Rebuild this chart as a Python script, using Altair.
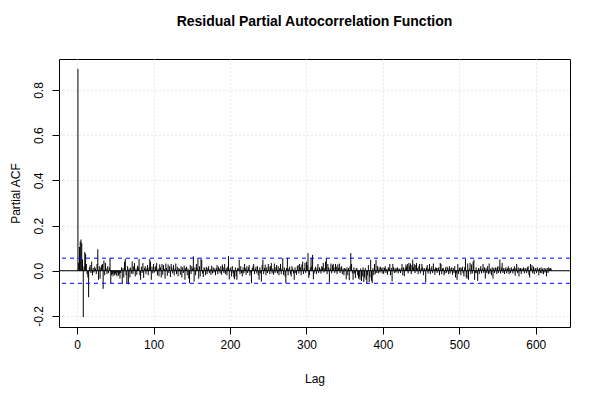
import altair as alt
import pandas as pd

# Partial autocorrelations, lags 1..620
pacf_1_100 = [
    0.893, 0.035, 0.105, 0.130, 0.138, 0.122, 0.050, -0.205, 0.020, 0.083,
    0.075, 0.030, -0.015, -0.030, -0.117, 0.015, 0.025, -0.010, 0.040, -0.020,
    0.012, -0.008, 0.018, 0.010, -0.015, 0.030, 0.095, -0.040, 0.020, -0.035,
    0.015, 0.025, 0.030, -0.080, 0.045, -0.020, 0.035, 0.010, -0.015, 0.020,
    -0.010, 0.015, 0.057, -0.055, -0.020, -0.015, -0.025, -0.010, -0.020, -0.012,
    -0.018, -0.025, -0.008, -0.022, -0.015, -0.035, -0.010, 0.015, -0.058, 0.012,
    -0.030, 0.040, 0.053, -0.020, -0.055, 0.020, -0.060, 0.010, -0.030, 0.015,
    -0.012, 0.041, -0.015, 0.020, 0.034, -0.025, 0.010, -0.018, 0.022, 0.015,
    0.052, -0.020, -0.040, 0.018, -0.010, 0.034, -0.032, 0.012, 0.020, -0.015,
    0.010, 0.025, -0.020, 0.015, 0.052, 0.040, -0.040, 0.018, -0.012, 0.030,
]
pacf_101_200 = [
    -0.008, 0.015, 0.022, 0.034, -0.020, 0.010, -0.025, 0.028, 0.015, -0.030,
    0.030, -0.018, 0.025, 0.008, -0.035, 0.032, 0.012, -0.022, 0.028, -0.010,
    0.020, -0.028, 0.030, 0.015, -0.012, 0.026, -0.020, 0.010, 0.032, -0.015,
    0.018, -0.025, 0.012, 0.008, -0.018, 0.020, -0.030, 0.015, -0.010, 0.022,
    -0.040, 0.012, 0.018, -0.020, 0.010, -0.035, -0.055, 0.025, -0.015, 0.020,
    0.010, 0.064, -0.048, 0.015, -0.020, 0.030, 0.012, 0.056, -0.035, 0.020,
    -0.025, 0.052, 0.048, -0.012, -0.028, 0.015, 0.010, -0.020, 0.018, -0.015,
    0.012, 0.020, -0.010, 0.008, -0.018, 0.022, -0.012, 0.015, -0.008, 0.010,
    -0.020, 0.012, 0.025, -0.015, 0.018, 0.010, -0.012, 0.020, -0.018, 0.027,
    0.015, -0.010, 0.030, -0.015, 0.012, -0.020, 0.018, 0.064, -0.038, 0.010,
]
pacf_201_300 = [
    0.015, -0.025, 0.020, -0.012, -0.030, -0.038, 0.015, -0.025, -0.040, 0.012,
    0.010, 0.049, -0.015, 0.020, -0.010, -0.025, 0.015, -0.012, 0.030, 0.012,
    -0.018, 0.020, -0.010, 0.015, 0.025, -0.022, -0.008, -0.055, 0.012, 0.020,
    0.030, -0.015, 0.010, 0.018, -0.012, 0.020, -0.020, -0.040, 0.015, -0.012,
    -0.048, 0.025, 0.049, -0.015, 0.012, 0.027, -0.020, 0.015, -0.010, 0.030,
    0.018, -0.015, 0.020, 0.034, -0.012, 0.010, -0.018, 0.032, -0.010, 0.015,
    0.025, -0.012, 0.020, -0.020, 0.012, 0.030, -0.015, 0.010, 0.056, -0.018,
    0.015, -0.025, -0.055, 0.012, 0.056, -0.020, 0.010, 0.018, -0.015, -0.025,
    0.020, 0.010, -0.012, -0.040, 0.015, -0.010, -0.018, 0.020, 0.025, -0.012,
    0.030, 0.015, -0.020, 0.028, 0.040, -0.015, 0.012, 0.035, -0.010, 0.040,
]
pacf_301_400 = [
    0.025, 0.078, -0.032, -0.020, 0.015, 0.056, 0.020, 0.070, -0.038, -0.012,
    0.010, 0.018, -0.015, 0.012, 0.030, -0.010, 0.015, 0.008, -0.012, 0.020,
    0.015, 0.035, -0.008, 0.012, 0.040, 0.056, -0.015, 0.030, 0.015, -0.052,
    0.010, 0.032, -0.012, 0.025, 0.030, 0.015, -0.010, 0.030, 0.018, -0.015,
    0.028, 0.012, 0.032, -0.010, 0.015, 0.020, -0.015, 0.010, -0.020, 0.012,
    0.008, -0.038, 0.015, -0.020, 0.012, -0.042, 0.020, 0.078, 0.030, -0.012,
    -0.040, 0.015, -0.012, -0.032, 0.010, 0.012, -0.020, -0.035, -0.028, -0.040,
    0.010, -0.045, -0.025, 0.015, -0.050, -0.030, 0.012, -0.040, -0.055, -0.020,
    0.025, -0.050, -0.030, 0.049, -0.045, -0.055, 0.012, -0.020, 0.030, -0.015,
    0.049, -0.010, 0.020, -0.012, 0.015, -0.008, 0.018, 0.010, -0.012, 0.015,
]
pacf_401_500 = [
    -0.015, 0.012, 0.020, -0.010, 0.008, -0.018, 0.015, 0.012, 0.030, -0.020,
    0.012, -0.047, 0.030, 0.015, -0.010, 0.012, -0.008, 0.010, 0.015, -0.012,
    0.010, 0.008, -0.010, 0.012, 0.030, -0.020, 0.015, -0.025, 0.010, 0.027,
    0.018, 0.030, -0.012, 0.035, 0.020, 0.032, -0.015, 0.025, 0.049, 0.015,
    0.030, -0.010, 0.025, 0.034, 0.012, -0.015, 0.020, 0.030, -0.012, 0.010,
    0.030, 0.015, -0.020, 0.012, 0.008, -0.052, 0.015, 0.025, -0.012, 0.010,
    0.030, -0.015, 0.012, 0.020, -0.010, 0.032, 0.008, -0.018, 0.015, 0.012,
    -0.010, 0.012, 0.015, -0.020, 0.034, 0.030, -0.015, 0.010, 0.012, -0.020,
    -0.012, 0.015, -0.010, 0.018, 0.012, -0.015, 0.020, -0.012, 0.010, 0.015,
    -0.018, 0.012, -0.010, 0.020, -0.030, -0.012, -0.040, 0.030, -0.015, 0.012,
]
pacf_501_620 = [
    0.015, -0.020, 0.010, 0.018, -0.012, -0.025, 0.015, 0.052, -0.030, -0.035,
    0.032, -0.040, 0.010, 0.035, -0.015, 0.028, -0.012, 0.040, 0.049, -0.040,
    -0.010, 0.015, -0.012, -0.045, 0.012, -0.015, 0.010, 0.020, -0.012, 0.010,
    0.030, -0.010, 0.015, -0.035, 0.012, -0.010, 0.020, -0.015, 0.032, -0.012,
    0.010, -0.020, 0.015, -0.035, 0.012, -0.010, 0.015, 0.012, -0.015, 0.018,
    -0.010, 0.020, 0.049, -0.012, 0.015, 0.034, -0.010, 0.012, -0.015, 0.010,
    0.015, -0.012, 0.010, 0.020, -0.015, 0.012, -0.010, 0.015, 0.008, -0.012,
    0.010, 0.020, -0.022, 0.012, 0.030, -0.010, 0.015, -0.025, 0.010, 0.012,
    -0.015, 0.010, 0.008, 0.015, -0.012, 0.010, 0.012, -0.010, 0.015, 0.020,
    -0.018, -0.030, 0.030, 0.010, 0.025, -0.012, 0.018, -0.015, 0.010, 0.012,
    -0.010, 0.015, 0.008, -0.020, 0.012, -0.010, 0.015, -0.012, 0.010, -0.015,
    0.012, -0.008, 0.010, -0.025, 0.012, -0.010, 0.015, 0.008, 0.012, 0.010,
]
conf_limit = 0.0556
x_ticks = [0, 100, 200, 300, 400, 500, 600]
y_ticks = [-0.2, 0.0, 0.2, 0.4, 0.6, 0.8]

values = (pacf_1_100 + pacf_101_200 + pacf_201_300 + pacf_301_400
          + pacf_401_500 + pacf_501_620)
df = pd.DataFrame({"lag": list(range(1, len(values) + 1)), "pacf": values})
df["zero"] = 0.0

FONT = "Liberation Sans"
xscale = alt.Scale(domain=[-23.76, 644.76], nice=False, zero=False)
yscale = alt.Scale(domain=[-0.249, 0.937], nice=False, zero=False)

xaxis = alt.Axis(values=x_ticks, title="Lag", grid=True, gridColor="#D3D3D3",
                 gridDash=[1, 3], domain=False, tickColor="black", tickSize=7,
                 labelFontSize=12, labelColor="black", labelPadding=5,
                 titleFontSize=12, titleFontWeight="normal", titleColor="black",
                 titlePadding=23, labelFont=FONT, titleFont=FONT, format="d")
yaxis = alt.Axis(values=y_ticks, title="Partial ACF", grid=True, gridColor="#D3D3D3",
                 gridDash=[1, 3], domain=False, tickColor="black", tickSize=7,
                 labelFontSize=12, labelColor="black", labelAngle=270,
                 labelAlign="center", labelBaseline="bottom", labelPadding=7,
                 labelExpr="datum.value < 0 ? '-' + format(-datum.value, '.1f') : format(datum.value, '.1f')",
                 titleFontSize=12, titleFontWeight="normal", titleColor="black",
                 titlePadding=10, labelFont=FONT, titleFont=FONT)

bars = alt.Chart(df).mark_rule(color="black", strokeWidth=1).encode(
    x=alt.X("lag:Q", scale=xscale, axis=xaxis),
    y=alt.Y("zero:Q", scale=yscale, axis=yaxis),
    y2="pacf:Q",
)

zero_line = alt.Chart(pd.DataFrame({"v": [0.0]})).mark_rule(
    color="black", strokeWidth=1).encode(y=alt.Y("v:Q", scale=yscale))

ci = alt.Chart(pd.DataFrame({"v": [conf_limit, -conf_limit]})).mark_rule(
    color="#0000FF", strokeWidth=1, strokeDash=[4, 4]).encode(
    y=alt.Y("v:Q", scale=yscale))

chart = alt.layer(bars, zero_line, ci).properties(
    width=511, height=268,
    title=alt.TitleParams("Residual Partial Autocorrelation Function",
                          fontSize=14, fontWeight="bold", font=FONT,
                          anchor="middle", offset=30, color="black"),
    autosize=alt.AutoSizeParams(type="none"),
    padding={"left": 51, "top": 51, "right": 22, "bottom": 65},
).configure(background="white").configure_view(stroke="black", strokeWidth=1)

chart.save("out.html", embed_options={"renderer": "svg", "actions": False})
